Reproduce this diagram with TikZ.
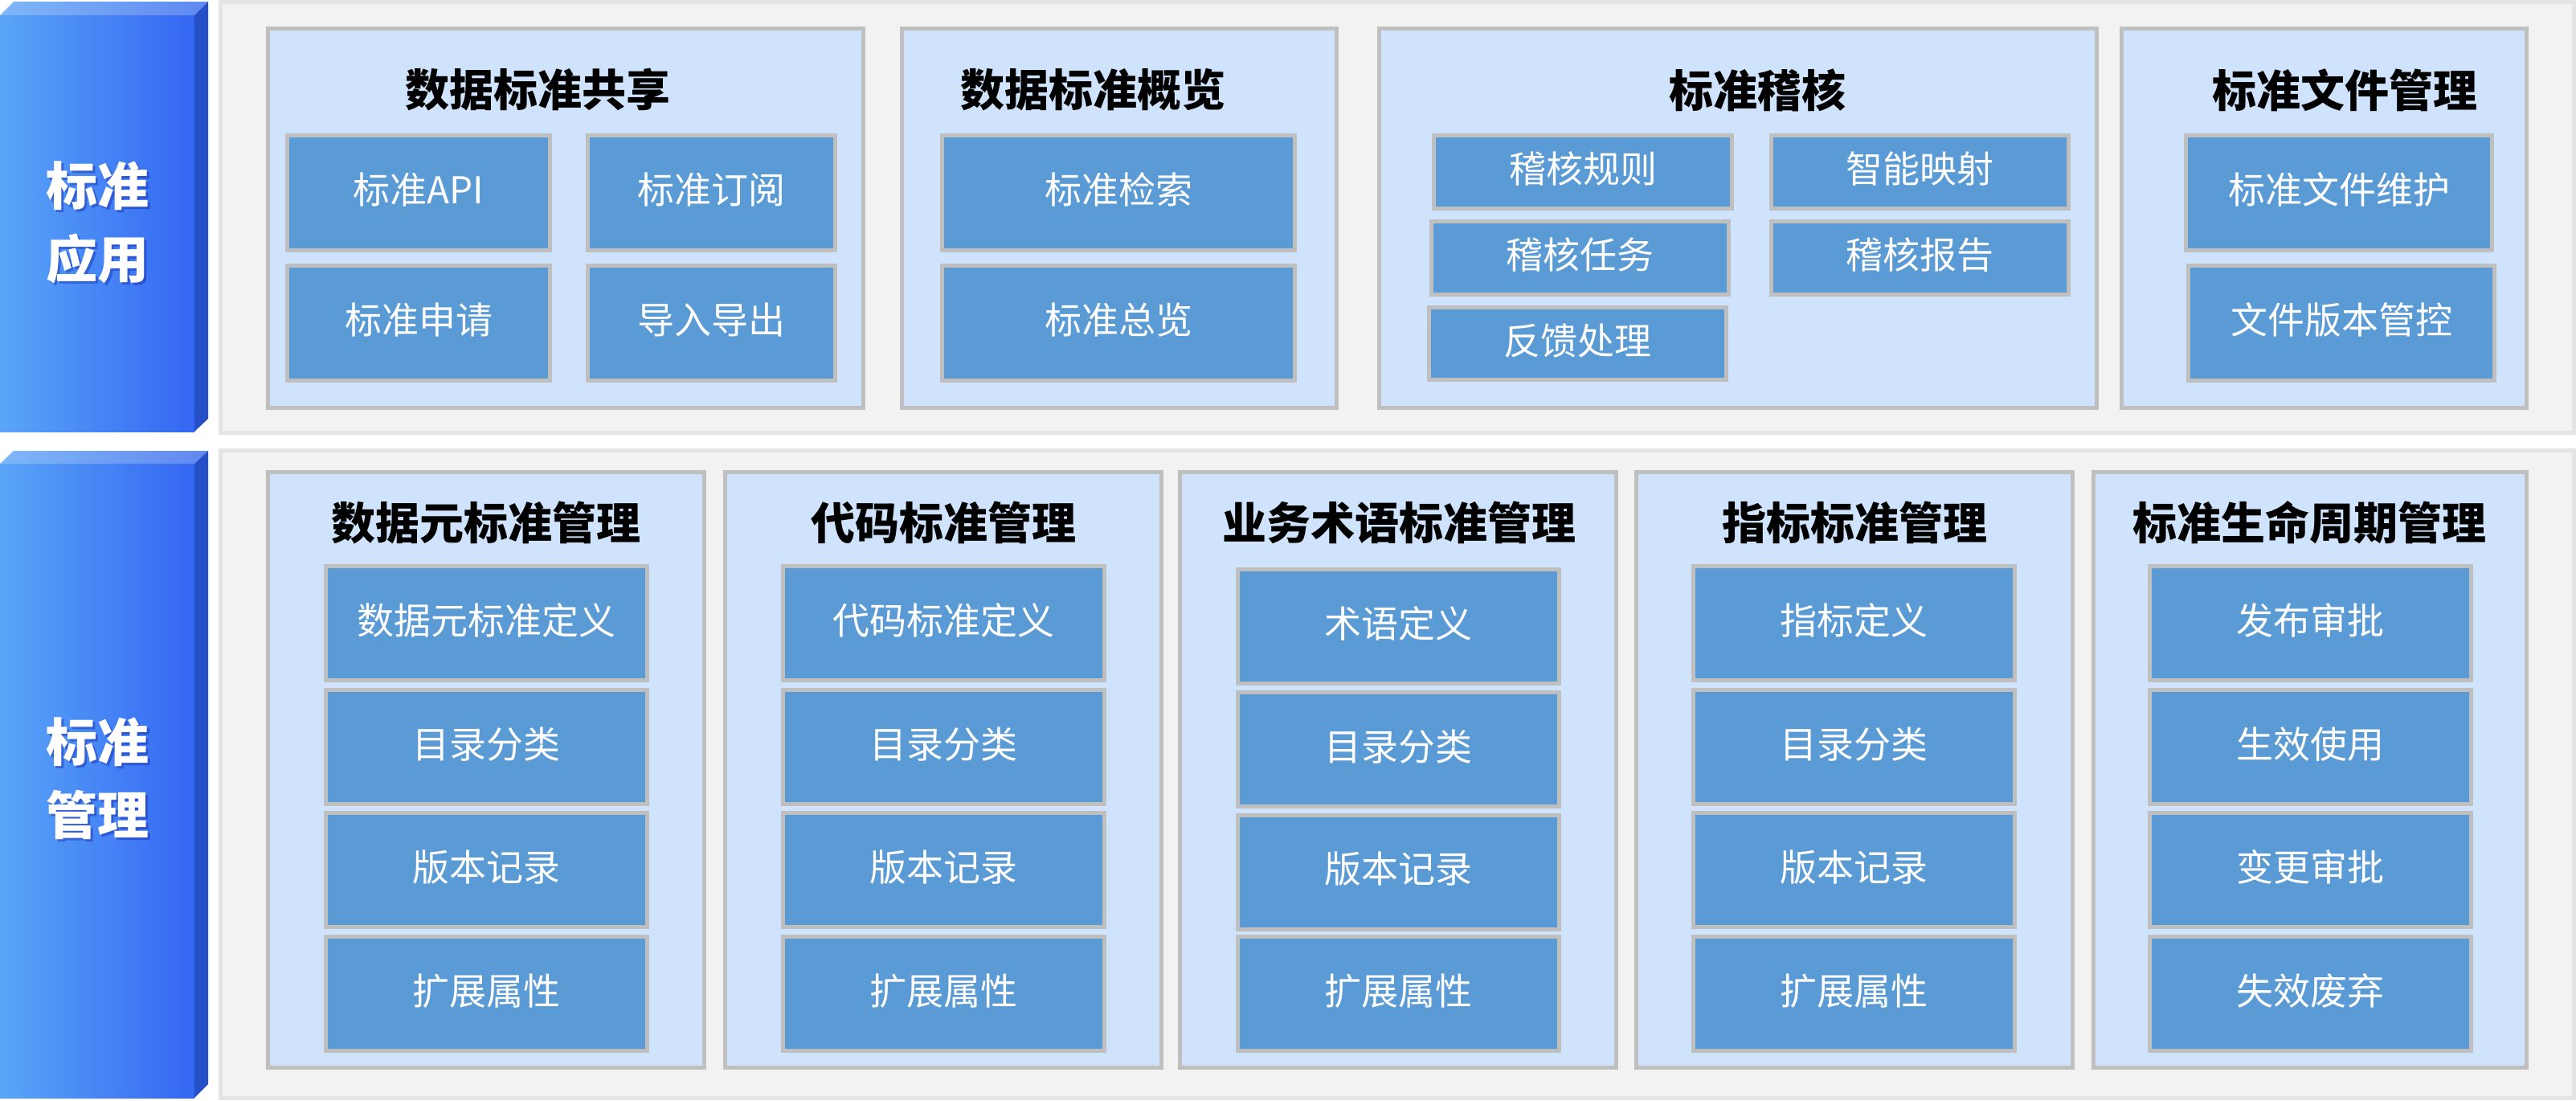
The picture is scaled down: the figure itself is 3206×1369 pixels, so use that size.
\documentclass[tikz,border=0pt]{standalone}
\usepackage{fontspec}
\setmainfont{Noto Sans CJK SC}
\usepackage{tikz}

\definecolor{panelbg}{HTML}{F2F2F2}
\definecolor{panelline}{HTML}{E4E4E4}
\definecolor{grpbg}{HTML}{CFE4FC}
\definecolor{boxline}{HTML}{BFBFBF}
\definecolor{itembg}{HTML}{5B9BD5}
\definecolor{barleft}{HTML}{5AA6F8}
\definecolor{barright}{HTML}{3366F2}
\definecolor{barside}{HTML}{244FC6}
\definecolor{bartopleft}{HTML}{80B7F7}
\definecolor{bartopright}{HTML}{5F88F1}

\begin{document}
\begin{tikzpicture}[x=1pt,y=-1pt,
  panel/.style={draw=panelline,fill=panelbg,line width=5pt,inner sep=0pt},
  grp/.style={draw=boxline,fill=grpbg,line width=5pt,inner sep=0pt},
  item/.style={draw=boxline,fill=itembg,line width=5pt,inner sep=0pt,text=white,text height=40pt,text depth=13pt,font=\fontsize{46}{50}\selectfont},
  grptitle/.style={inner sep=0pt,font=\bfseries\fontsize{55}{60}\selectfont},
  bartext/.style={inner sep=0pt,align=center,text=white,font=\bfseries\fontsize{64}{91}\selectfont}]
\path[use as bounding box] (0,0) rectangle (3206,1369);
% left bars
\shade[left color=bartopleft,right color=bartopright] (0,19) -- (17,2) -- (259,2) -- (242,19) -- cycle;
\shade[left color=barleft,right color=barright] (0,19) rectangle (242,537);
\fill[barside] (242,19) -- (259,2) -- (259,521) -- (242,537) -- cycle;
\node[bartext,text=blue!55!black,opacity=.3] (lblAppShadow) at (124,280) {标准\\应用};
\node[bartext] (lblApp) at (121,277) {标准\\应用};
\shade[left color=bartopleft,right color=bartopright] (0,577) -- (17,561) -- (259,561) -- (242,577) -- cycle;
\shade[left color=barleft,right color=barright] (0,577) rectangle (242,1366);
\fill[barside] (242,577) -- (259,561) -- (259,1349) -- (242,1366) -- cycle;
\node[bartext,text=blue!55!black,opacity=.3] (lblMgmtShadow) at (124,972) {标准\\管理};
\node[bartext] (lblMgmt) at (121,969) {标准\\管理};
% panels
\node[panel,minimum width=2929pt,minimum height=536pt] (pnlApp) at (1739,270.5) {};
\node[panel,minimum width=2929pt,minimum height=806pt] (pnlMgmt) at (1739,963.5) {};
% standard application
\node[grp,minimum width=741pt,minimum height=472pt] (gShare) at (704,271.5) {};
\node[grp,minimum width=541pt,minimum height=472pt] (gView) at (1393,271.5) {};
\node[grp,minimum width=893pt,minimum height=472pt] (gAudit) at (2163,271.5) {};
\node[grp,minimum width=504pt,minimum height=472pt] (gFile) at (2892.5,271.5) {};
\node[grptitle] (tShare) at (669,112) {数据标准共享};
\node[grptitle] (tView) at (1360,112) {数据标准概览};
\node[grptitle] (tAudit) at (2187,112) {标准稽核};
\node[grptitle] (tFile) at (2918,112) {标准文件管理};
\node[item,minimum width=327pt,minimum height=143pt] (sApi) at (521,240) {标准API};
\node[item,minimum width=308pt,minimum height=143pt] (sSubscribe) at (885.5,240) {标准订阅};
\node[item,minimum width=327pt,minimum height=143pt] (sApply) at (521,402) {标准申请};
\node[item,minimum width=308pt,minimum height=143pt] (sImport) at (885.5,402) {导入导出};
\node[item,minimum width=439pt,minimum height=143pt] (sSearch) at (1392,240) {标准检索};
\node[item,minimum width=439pt,minimum height=143pt] (sOverview) at (1392,402) {标准总览};
\node[item,minimum width=371pt,minimum height=91pt] (sRule) at (1970,214) {稽核规则};
\node[item,minimum width=370pt,minimum height=91pt] (sMap) at (2389.5,214) {智能映射};
\node[item,minimum width=370pt,minimum height=91pt] (sTask) at (1966.5,321) {稽核任务};
\node[item,minimum width=370pt,minimum height=91pt] (sReport) at (2389.5,321) {稽核报告};
\node[item,minimum width=370pt,minimum height=90pt] (sFeedback) at (1963.5,427.5) {反馈处理};
\node[item,minimum width=381pt,minimum height=143pt] (sFileKeep) at (2911,240) {标准文件维护};
\node[item,minimum width=381pt,minimum height=143pt] (sFileVer) at (2914,402) {文件版本管控};
% standard management
\node[grp,minimum width=543pt,minimum height=741pt] (gElem) at (605,958) {};
\node[grp,minimum width=543pt,minimum height=741pt] (gCode) at (1174,958) {};
\node[grp,minimum width=543pt,minimum height=741pt] (gTerm) at (1740,958) {};
\node[grp,minimum width=543pt,minimum height=741pt] (gIdx) at (2307.5,958) {};
\node[grp,minimum width=539pt,minimum height=741pt] (gLife) at (2875,958) {};
\node[grptitle] (tElem) at (605,650) {数据元标准管理};
\node[grptitle] (tCode) at (1174,650) {代码标准管理};
\node[grptitle] (tTerm) at (1741,650) {业务术语标准管理};
\node[grptitle] (tIdx) at (2308,650) {指标标准管理};
\node[grptitle] (tLife) at (2874,650) {标准生命周期管理};
\node[item,minimum width=400pt,minimum height=142pt] (sElemDef) at (605,775.5) {数据元标准定义};
\node[item,minimum width=400pt,minimum height=142pt] (sElemCat) at (605,929.5) {目录分类};
\node[item,minimum width=400pt,minimum height=142pt] (sElemVer) at (605,1082.5) {版本记录};
\node[item,minimum width=400pt,minimum height=142pt] (sElemExt) at (605,1236.5) {扩展属性};
\node[item,minimum width=400pt,minimum height=142pt] (sCodeDef) at (1174,775.5) {代码标准定义};
\node[item,minimum width=400pt,minimum height=142pt] (sCodeCat) at (1174,929.5) {目录分类};
\node[item,minimum width=400pt,minimum height=142pt] (sCodeVer) at (1174,1082.5) {版本记录};
\node[item,minimum width=400pt,minimum height=142pt] (sCodeExt) at (1174,1236.5) {扩展属性};
\node[item,minimum width=400pt,minimum height=142pt] (sTermDef) at (1740,779.5) {术语定义};
\node[item,minimum width=400pt,minimum height=142pt] (sTermCat) at (1740,932.5) {目录分类};
\node[item,minimum width=400pt,minimum height=142pt] (sTermVer) at (1740,1085) {版本记录};
\node[item,minimum width=400pt,minimum height=142pt] (sTermExt) at (1740,1236.5) {扩展属性};
\node[item,minimum width=400pt,minimum height=142pt] (sIdxDef) at (2307.5,775.5) {指标定义};
\node[item,minimum width=400pt,minimum height=142pt] (sIdxCat) at (2307.5,929.5) {目录分类};
\node[item,minimum width=400pt,minimum height=142pt] (sIdxVer) at (2307.5,1082.5) {版本记录};
\node[item,minimum width=400pt,minimum height=142pt] (sIdxExt) at (2307.5,1236.5) {扩展属性};
\node[item,minimum width=400pt,minimum height=142pt] (sLifePub) at (2875,775.5) {发布审批};
\node[item,minimum width=400pt,minimum height=142pt] (sLifeUse) at (2875,929.5) {生效使用};
\node[item,minimum width=400pt,minimum height=142pt] (sLifeChg) at (2875,1082.5) {变更审批};
\node[item,minimum width=400pt,minimum height=142pt] (sLifeEnd) at (2875,1236.5) {失效废弃};
\end{tikzpicture}
\end{document}
